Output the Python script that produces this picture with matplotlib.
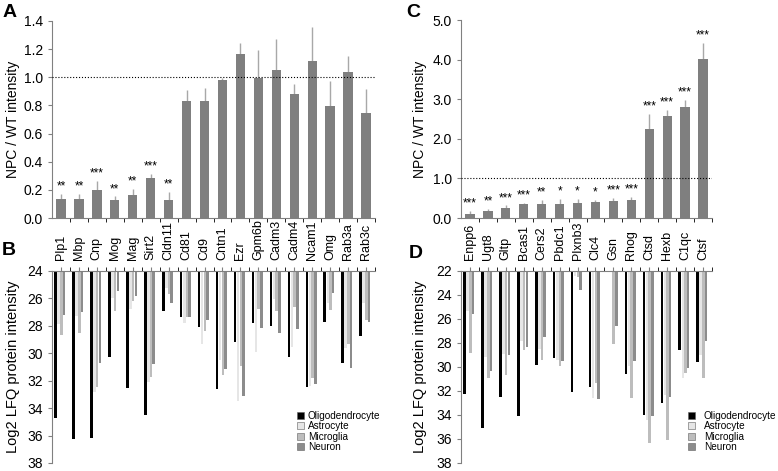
import matplotlib
matplotlib.use('Agg')
import matplotlib.pyplot as plt
from matplotlib.patches import Patch
import numpy as np

plt.rcParams['font.family'] = ['Liberation Sans', 'DejaVu Sans']

# Panel A / B categories (myelin / oligodendrocyte proteins)
genes_ab = ["Plp1", "Mbp", "Cnp", "Mog", "Mag", "Sirt2", "Cldn11", "Cd81", "Cd9",
            "Cntn1", "Ezr", "Gpm6b", "Cadm3", "Cadm4", "Ncam1", "Omg", "Rab3a", "Rab3c"]
ratio_a = [0.137, 0.135, 0.196, 0.13, 0.165, 0.284, 0.13, 0.832, 0.832,
           0.981, 1.163, 0.998, 1.055, 0.884, 1.118, 0.797, 1.038, 0.747]
err_a = [0.036, 0.035, 0.069, 0.024, 0.043, 0.03, 0.057, 0.078, 0.09,
         0.017, 0.083, 0.196, 0.22, 0.067, 0.237, 0.177, 0.111, 0.171]
stars_a = ["**", "**", "***", "**", "**", "***", "**", "", "",
           "", "", "", "", "", "", "", "", ""]

oligo_b = [34.75, 36.24, 36.17, 30.3, 32.5, 34.48, 26.9, 27.33, 28.1,
           32.58, 29.16, 27.76, 27.98, 30.27, 32.45, 27.7, 30.7, 28.72]
astro_b = [27.9, 27.3, 32.8, 26.0, 26.77, 32.1, 25.25, 27.76, 29.3,
           30.46, 33.45, 29.9, 26.07, 29.54, 32.4, 26.36, 29.6, 26.3]
micro_b = [28.67, 28.53, 32.43, 26.9, 26.2, 31.76, 25.7, 27.37, 28.34,
           31.6, 30.94, 26.75, 26.94, 26.65, 31.8, 26.84, 29.3, 27.6]
neuron_b = [27.2, 27.0, 30.7, 25.45, 25.8, 30.75, 26.3, 27.37, 27.54,
            31.18, 33.08, 28.12, 28.53, 28.24, 32.27, 25.6, 31.04, 27.7]

# Panel C / D categories (changed proteins)
genes_cd = ["Enpp6", "Ugt8", "Gltp", "Bcas1", "Cers2", "Pbdc1", "Plxnb3",
            "Clc4", "Gsn", "Rhog", "Ctsd", "Hexb", "C1qc", "Ctsf"]
ratio_c = [0.11, 0.168, 0.26, 0.345, 0.353, 0.36, 0.37,
           0.41, 0.437, 0.46, 2.25, 2.58, 2.80, 4.02]
err_c = [0.075, 0.067, 0.06, 0.035, 0.097, 0.12, 0.12,
         0.05, 0.063, 0.07, 0.38, 0.15, 0.18, 0.41]
stars_c = ["***", "**", "***", "***", "**", "*", "*",
           "*", "***", "***", "***", "***", "***", "***"]

oligo_d = [32.22, 35.07, 32.5, 34.1, 29.87, 29.26, 32.1,
           31.7, np.nan, 30.56, 33.96, 32.97, 28.6, 29.55]
astro_d = [25.37, 29.2, 28.9, 27.8, 28.5, 29.45, 22.45,
           32.6, np.nan, 29.9, 34.4, 32.3, 30.9, 29.0]
micro_d = [28.85, 30.9, 30.65, 28.57, 29.4, 29.9, 22.5,
           31.3, 28.1, 32.55, 36.3, 36.1, 30.5, 30.9]
neuron_d = [25.6, 30.37, 29.04, 28.3, 27.5, 29.5, 23.55,
            32.7, 26.6, 29.5, 34.07, 32.5, 30.1, 27.8]

cell_types = ["Oligodendrocyte", "Astrocyte", "Microglia", "Neuron"]
cell_colors = ['#000000', '#e6e6e6', '#bdbdbd', '#8c8c8c']

BAR_GREY = '#7f7f7f'
ERR_GREY = '#a8a8a8'
AXIS_GREY = '#808080'

W, H = 778, 471
fig = plt.figure(figsize=(W / 100, H / 100), dpi=100)


def px_axes(left, top, right, bottom):
    # axes from pixel box
    return fig.add_axes([left / W, 1 - bottom / H, (right - left) / W, (bottom - top) / H])


def style_axes(ax):
    for s in ax.spines.values():
        s.set_color(AXIS_GREY)
        s.set_linewidth(0.8)
    ax.tick_params(colors=AXIS_GREY, labelcolor='black', width=0.8, length=3)


def ratio_panel(ax, genes, vals, errs, stars, ymax, ystep, fmt):
    x = np.arange(len(genes))
    ax.bar(x, vals, width=0.52, color=BAR_GREY, zorder=2)
    ax.errorbar(x, vals, yerr=[np.zeros(len(vals)), errs], fmt='none',
                ecolor=ERR_GREY, elinewidth=1, capsize=0, zorder=1)
    for xi, v, e, s in zip(x, vals, errs, stars):
        if s:
            ax.annotate(s, (xi, v + e), xytext=(0, 1), textcoords='offset points',
                        ha='center', va='bottom', fontsize=8.5)
    ax.axhline(1.0, color='black', linestyle=':', linewidth=0.8, zorder=3)
    ax.set_xlim(-0.5, len(genes) - 0.5)
    ax.set_ylim(0, ymax)
    ticks = np.arange(0, ymax + 1e-9, ystep)
    ax.set_yticks(ticks)
    ax.set_yticklabels([fmt % t for t in ticks], fontsize=10)
    ax.set_xticks([])
    ax.set_xticks(np.arange(len(genes)) + 0.5, minor=True)
    ax.tick_params(axis='x', which='minor', length=3)
    ax.spines['top'].set_visible(False)
    ax.spines['right'].set_visible(False)
    ax.set_ylabel("NPC / WT intensity", fontsize=10)
    style_axes(ax)


def lfq_panel(ax, genes, series, ymin, ymax, legend_kw):
    x = np.arange(len(genes))
    offsets = [-0.3, -0.13, 0.02, 0.17]
    for vals, off, col, name in zip(series, offsets, cell_colors, cell_types):
        vals = np.array(vals)
        ax.bar(x + off, vals - ymin, bottom=ymin, width=0.14, color=col, label=name)
    ax.set_xlim(-0.5, len(genes) - 0.5)
    ax.set_ylim(ymax, ymin)
    ax.set_yticks(np.arange(ymin, ymax + 1, 2))
    ax.set_yticklabels([str(t) for t in range(ymin, ymax + 1, 2)], fontsize=10)
    ax.xaxis.tick_top()
    ax.set_xticks(x)
    ax.set_xticklabels(genes, rotation=90, fontsize=9)
    ax.tick_params(axis='x', which='major', length=0, pad=5)
    ax.set_xticks(x + 0.5, minor=True)
    ax.tick_params(axis='x', which='minor', length=3, top=True, bottom=False)
    ax.spines['bottom'].set_visible(False)
    ax.spines['right'].set_visible(False)
    ax.set_ylabel("Log2 LFQ protein intensity", fontsize=10.5)
    style_axes(ax)
    handles = [Patch(facecolor=c, edgecolor='#606060', linewidth=0.4) for c in cell_colors]
    ax.legend(handles, cell_types, frameon=False, fontsize=7.2, handlelength=0.7,
              handleheight=0.7, labelspacing=0.05, borderpad=0, **legend_kw)


ax_a = px_axes(52, 21, 375, 218)
ratio_panel(ax_a, genes_ab, ratio_a, err_a, stars_a, 1.4, 0.2, '%.1f')
ax_a.yaxis.set_label_coords(-0.1, 0.5)

ax_b = px_axes(52, 271, 375, 463)
lfq_panel(ax_b, genes_ab, [oligo_b, astro_b, micro_b, neuron_b], 24, 38,
          dict(loc='lower left', bbox_to_anchor=(0.743, 0.03), handletextpad=0.4))
ax_b.yaxis.set_label_coords(-0.1, 0.5)

ax_c = px_axes(461, 20, 712, 218)
ratio_panel(ax_c, genes_cd, ratio_c, err_c, stars_c, 5.0, 1.0, '%.1f')
ax_c.yaxis.set_label_coords(-0.135, 0.5)

ax_d = px_axes(461, 271, 712, 463)
lfq_panel(ax_d, genes_cd, [oligo_d, astro_d, micro_d, neuron_d], 22, 38,
          dict(loc='lower left', bbox_to_anchor=(0.884, 0.03), handletextpad=0.9))
ax_d.yaxis.set_label_coords(-0.135, 0.5)

# panel letters
for lbl, xp, yp in [("A", 3, 4), ("B", 2, 242), ("C", 406, 4), ("D", 409, 245)]:
    fig.text(xp / W, 1 - yp / H, lbl, fontsize=14, fontweight='bold', ha='left', va='top')

fig.savefig("out.png", dpi=100)
